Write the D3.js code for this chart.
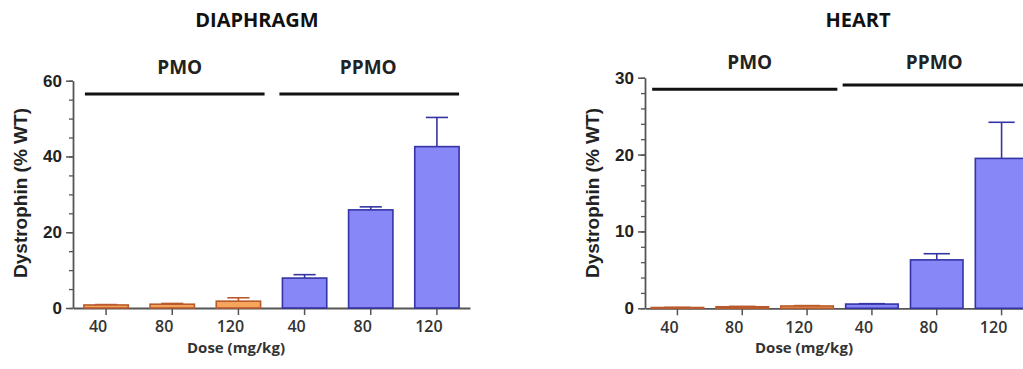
<!DOCTYPE html>
<html>
<head>
<meta charset="utf-8">
<script src="https://cdn.jsdelivr.net/npm/d3@7"></script>
<style>
  body { margin: 0; background: #fff; }
  svg { display: block; }
  .ytick text { font-family: "Liberation Sans", Arial, sans-serif; font-weight: bold; font-size: 17px; fill: #222; }
  .xtick text { font-family: "Open Sans", sans-serif; font-weight: 600; font-size: 16px; fill: #333; }
</style>
</head>
<body>
<div id="chart"></div>
<script>
// doses on the x axis, grouped by compound
const doses = ["40", "80", "120", "40", "80", "120"];
const groups = ["PMO", "PMO", "PMO", "PPMO", "PPMO", "PPMO"];
const groupNames = ["PMO", "PPMO"];

// dystrophin (% WT), mean and upper error (SEM)
const diaphragmMean = [0.8, 1.0, 1.8, 7.9, 25.9, 42.6];
const diaphragmErr = [0.1, 0.2, 0.9, 0.9, 0.8, 7.7];
const heartMean = [0.1, 0.2, 0.3, 0.55, 6.3, 19.5];
const heartErr = [0.02, 0.05, 0.05, 0.05, 0.8, 4.7];

const yTicksDiaphragm = [0, 20, 40, 60];
const yTicksHeart = [0, 10, 20, 30];

const fillCol = {PMO: "#f5a55c", PPMO: "#8787f7"};
const strokeCol = {PMO: "#b85a2c", PPMO: "#3434a6"};

const svg = d3.select("#chart").append("svg")
    .attr("width", 1023)
    .attr("height", 369);

function drawPanel(p) {
    const rows = doses.map((d, i) => ({key: i, dose: d, group: groups[i], mean: p.mean[i], err: p.err[i]}));

    const x = d3.scaleBand()
        .domain(rows.map(r => r.key))
        .range([p.x0, p.x1])
        .paddingInner(p.pad)
        .paddingOuter(p.pad / 2);

    const y = d3.scaleLinear()
        .domain([0, p.ymax])
        .range([p.y0, p.y1]);

    const g = svg.append("g");

    // title
    g.append("text")
        .attr("x", p.titleX).attr("y", 27)
        .attr("text-anchor", "middle")
        .style("font-family", "Open Sans, sans-serif")
        .style("font-weight", "bold")
        .style("font-size", "20px")
        .style("fill", "#111")
        .text(p.title);

    // minor ticks
    g.append("g")
        .attr("transform", `translate(${p.x0},0)`)
        .call(d3.axisLeft(y).tickValues(d3.range(0, p.ymax + 0.01, p.minor)).tickSize(4).tickFormat(""))
        .call(a => a.selectAll("line").attr("stroke", "#555").attr("stroke-width", 1.3))
        .call(a => a.select(".domain").remove());

    // y axis
    g.append("g")
        .attr("class", "ytick")
        .attr("transform", `translate(${p.x0},0)`)
        .call(d3.axisLeft(y).tickValues(p.yticks).tickSize(7).tickSizeOuter(0).tickPadding(4))
        .call(a => a.selectAll("line").attr("stroke", "#555").attr("stroke-width", 1.5))
        .call(a => a.select(".domain").attr("stroke", "#555").attr("stroke-width", 1.8));

    // x axis
    g.append("g")
        .attr("class", "xtick")
        .attr("transform", `translate(0,${p.y0})`)
        .call(d3.axisBottom(x).tickSize(7).tickSizeOuter(0).tickPadding(6).tickFormat(k => doses[k]))
        .call(a => a.selectAll("line").attr("stroke", "#555").attr("stroke-width", 1.5))
        .call(a => a.selectAll("text").attr("dx", -8))
        .call(a => a.select(".domain").attr("stroke", "#555").attr("stroke-width", 1.8));

    // axis titles
    g.append("text")
        .attr("transform", `translate(${p.ylabX},193) rotate(-90)`)
        .attr("text-anchor", "middle")
        .style("font-family", "Liberation Sans, Arial, sans-serif")
        .style("font-weight", "bold")
        .style("font-size", "19px")
        .style("fill", "#222")
        .text("Dystrophin (% WT)");

    g.append("text")
        .attr("x", p.xlabX).attr("y", 353)
        .attr("text-anchor", "middle")
        .style("font-family", "Open Sans, sans-serif")
        .style("font-weight", "bold")
        .style("font-size", "15px")
        .style("fill", "#333")
        .text("Dose (mg/kg)");

    // error bars
    const half = x.bandwidth() / 4;
    const eb = g.selectAll(".err").data(rows).enter().append("g")
        .attr("stroke", d => strokeCol[d.group])
        .attr("stroke-width", 1.6);
    eb.append("line")
        .attr("x1", d => x(d.key) + x.bandwidth() / 2)
        .attr("x2", d => x(d.key) + x.bandwidth() / 2)
        .attr("y1", d => y(d.mean))
        .attr("y2", d => y(d.mean + d.err));
    eb.append("line")
        .attr("x1", d => x(d.key) + x.bandwidth() / 2 - half)
        .attr("x2", d => x(d.key) + x.bandwidth() / 2 + half)
        .attr("y1", d => y(d.mean + d.err))
        .attr("y2", d => y(d.mean + d.err));

    // bars
    g.selectAll(".bar").data(rows).enter().append("rect")
        .attr("x", d => x(d.key))
        .attr("width", x.bandwidth())
        .attr("y", d => y(d.mean))
        .attr("height", d => y(0) - y(d.mean))
        .attr("fill", d => fillCol[d.group])
        .attr("stroke", d => strokeCol[d.group])
        .attr("stroke-width", 1.6);

    // group brackets
    groupNames.forEach((name, gi) => {
        const keys = rows.filter(r => r.group === name).map(r => r.key);
        const xa = x(keys[0]) + (gi === 0 ? 1 : -3);
        const xb = x(keys[keys.length - 1]) + x.bandwidth() + (gi === 0 ? 4 : 0);
        const ly = p.lineY[gi];
        g.append("line")
            .attr("x1", xa).attr("x2", xb)
            .attr("y1", ly).attr("y2", ly)
            .attr("stroke", "#111").attr("stroke-width", 3);
        g.append("text")
            .attr("x", (xa + xb) / 2 + (gi === 0 ? 5 : -1))
            .attr("y", p.labY)
            .attr("text-anchor", "middle")
            .style("font-family", "Open Sans, sans-serif")
            .style("font-weight", "bold")
            .style("font-size", "19px")
            .style("fill", "#222")
            .text(name);
    });
}

drawPanel({
    title: "DIAPHRAGM", titleX: 257,
    mean: diaphragmMean, err: diaphragmErr,
    x0: 73, x1: 470, pad: 0.33,
    y0: 308, y1: 80.7, ymax: 60, yticks: yTicksDiaphragm, minor: 5,
    ylabX: 27, xlabX: 236,
    lineY: [94, 94], labY: 74
});

drawPanel({
    title: "HEART", titleX: 858,
    mean: heartMean, err: heartErr,
    x0: 645, x1: 1034, pad: 0.19,
    y0: 308.3, y1: 77.7, ymax: 30, yticks: yTicksHeart, minor: 2,
    ylabX: 599, xlabX: 804,
    lineY: [89.3, 85], labY: 69
});
</script>
</body>
</html>
